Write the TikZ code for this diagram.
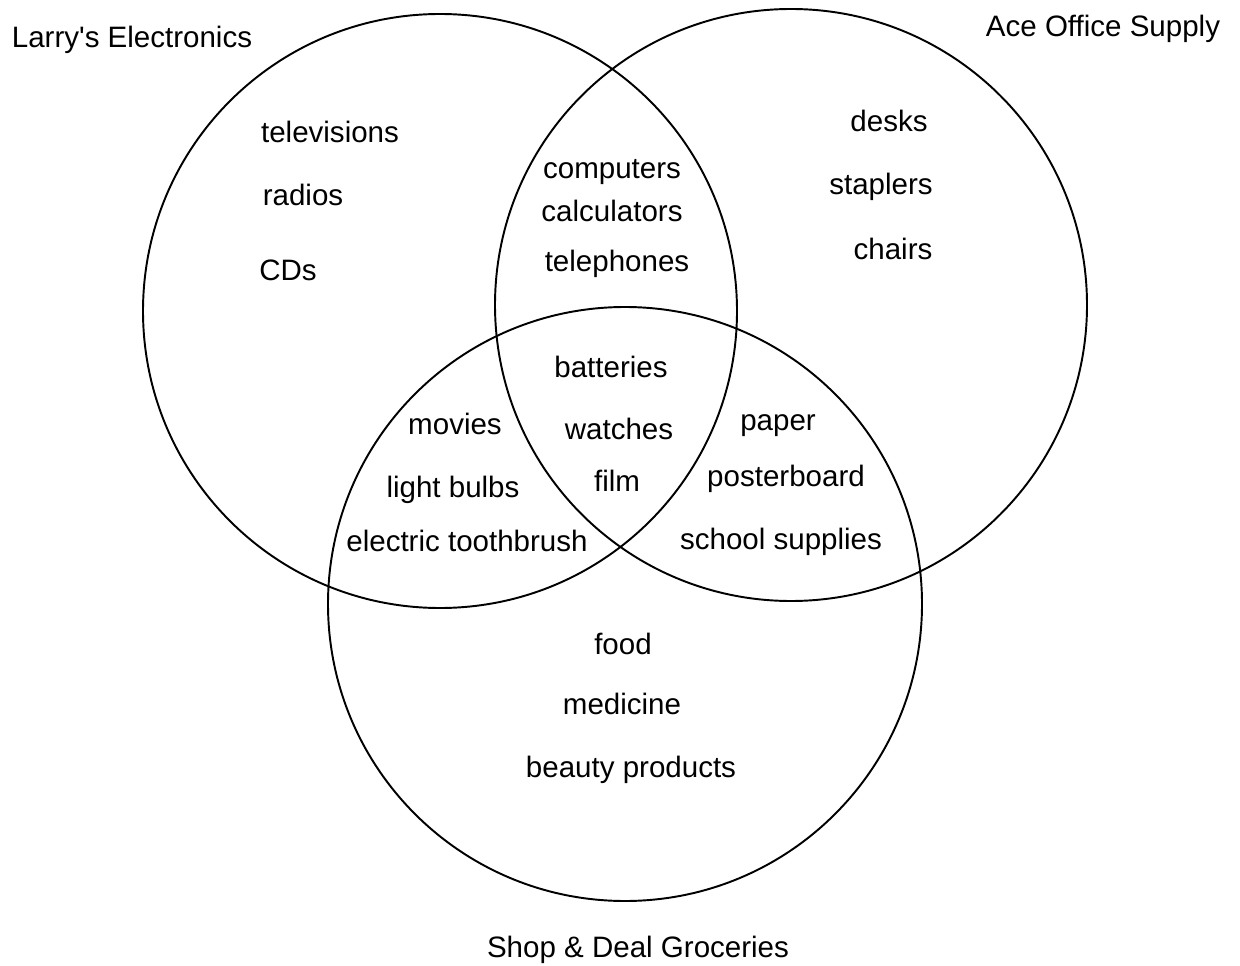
\documentclass[tikz,border=0pt]{standalone}
\usepackage{fontspec}
\setmainfont{Liberation Sans}
\usepackage{tikz}
\usetikzlibrary{positioning}

\begin{document}
\begin{tikzpicture}[x=1cm, y=1cm,
  ring/.style={draw=black, line width=1.1pt},
  item/.style={anchor=base, inner sep=0pt,
    font=\fontsize{16.8pt}{19pt}\selectfont},
  store/.style={item}
]
\useasboundingbox (0,0) rectangle (24.8,19.3);

% the three stores
\draw[ring] (8.80, 13.08) circle[radius=5.94cm];
\draw[ring] (15.82,13.20) circle[radius=5.92cm];
\draw[ring] (12.50, 7.22) circle[radius=5.94cm];

\node[store] at (2.64, 18.34) (larry) {Larry\textquotesingle s Electronics};
\node[store] at (22.06,18.56) (ace)   {Ace Office Supply};
\node[store] at (12.76, 0.16) (shop)  {Shop \& Deal Groceries};

% electronics only
\node[item] at (6.60, 16.44) (tv)    {televisions};
\node[item] at (6.06, 15.18) (radio) {radios};
\node[item] at (5.76, 13.68) (cds)   {CDs};

% electronics and office
\node[item] at (12.24,15.72) (comp)  {computers};
\node[item] at (12.24,14.86) (calc)  {calculators};
\node[item] at (12.34,13.86) (phone) {telephones};

% office only
\node[item] at (17.78,16.66) (desk)  {desks};
\node[item] at (17.62,15.40) (stap)  {staplers};
\node[item] at (17.86,14.10) (chair) {chairs};

% all three
\node[item] at (12.22,11.76) (batt)  {batteries};
\node[item] at (12.38,10.50) (watch) {watches};
\node[item] at (12.34, 9.48) (film)  {film};

% electronics and groceries
\node[item] at (9.10, 10.62) (movie) {movies};
\node[item] at (9.06,  9.36) (bulb)  {light bulbs};
\node[item] at (9.34,  8.28) (brush) {electric toothbrush};

% office and groceries
\node[item] at (15.56,10.70) (paper) {paper};
\node[item] at (15.72, 9.58) (post)  {posterboard};
\node[item] at (15.62, 8.32) (school){school supplies};

% groceries only
\node[item] at (12.46, 6.22) (food)  {food};
\node[item] at (12.44, 5.02) (med)   {medicine};
\node[item] at (12.62, 3.76) (beauty){beauty products};
\end{tikzpicture}
\end{document}
